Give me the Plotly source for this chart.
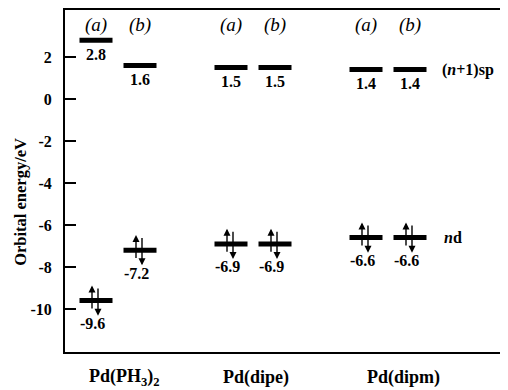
import plotly.graph_objects as go

# ---- data ----
compounds = ["Pd(PH<sub>3</sub>)<sub>2</sub>", "Pd(dipe)", "Pd(dipm)"]
sp_a = [2.8, 1.5, 1.4]      # (n+1)sp level, structure (a)
sp_b = [1.6, 1.5, 1.4]      # (n+1)sp level, structure (b)
d_a = [-9.6, -6.9, -6.6]    # nd level, structure (a)
d_b = [-7.2, -6.9, -6.6]    # nd level, structure (b)
tick_vals = [-10, -8, -6, -4, -2, 0, 2]
tick_text = ["-10", "-8", "-6", "-4", "-2", "0", "2"]

# ---- layout helpers ----
group_x = [53, 188, 323]
label_x = [59, 191, 338]
off = 22
hw = 16.5
FONT = "Liberation Serif"

fig = go.Figure()
ann = []

def fmt(v):
    return ("-" if v < 0 else "") + f"{abs(v):.1f}"

for gi, c in enumerate(group_x):
    for sub, xc in (("a", c - off), ("b", c + off)):
        e_sp = sp_a[gi] if sub == "a" else sp_b[gi]
        e_d = d_a[gi] if sub == "a" else d_b[gi]
        for e in (e_sp, e_d):
            fig.add_trace(go.Scatter(x=[xc - hw, xc + hw], y=[e, e], mode="lines",
                                     line=dict(color="black", width=5),
                                     hoverinfo="skip", showlegend=False))
        ann.append(dict(x=xc, y=e_sp, text=fmt(e_sp), showarrow=False, yshift=-14,
                        font=dict(family=FONT, size=16, color="black", weight="bold")))
        ann.append(dict(x=xc, y=e_d, text=fmt(e_d), showarrow=False, yshift=-23, xshift=-4,
                        font=dict(family=FONT, size=16, color="black", weight="bold")))
        ann.append(dict(x=xc - 4, y=e_d + 0.72, ax=xc - 4, ay=e_d - 0.45, axref="x", ayref="y",
                        text="", showarrow=True, arrowhead=2, arrowsize=1, arrowwidth=1.4,
                        arrowcolor="black"))
        ann.append(dict(x=xc + 2, y=e_d - 0.72, ax=xc + 2, ay=e_d + 0.65, axref="x", ayref="y",
                        text="", showarrow=True, arrowhead=2, arrowsize=1, arrowwidth=1.4,
                        arrowcolor="black"))
        ann.append(dict(x=xc, y=0.956, yref="paper", yanchor="middle", text=f"<i>({sub})</i>",
                        showarrow=False, font=dict(family=FONT, size=19, color="black")))
    ann.append(dict(x=label_x[gi], y=-0.076, yref="paper", yanchor="middle", text=compounds[gi],
                    showarrow=False,
                    font=dict(family=FONT, size=18, color="black", weight="bold")))

ann.append(dict(x=375, y=sp_b[2], text="(<i>n</i>+1)sp", showarrow=False, xanchor="left",
                font=dict(family=FONT, size=16, color="black", weight="bold")))
ann.append(dict(x=377, y=d_b[2], text="<i>n</i>d", showarrow=False, xanchor="left",
                font=dict(family=FONT, size=16, color="black", weight="bold")))
ann.append(dict(x=-0.0993, y=0.439, xref="paper", yref="paper", xanchor="center",
                yanchor="middle", text="Orbital energy/eV", textangle=-90, showarrow=False,
                font=dict(family=FONT, size=16.5, color="black", weight="bold")))

# page body has an 8px default margin, so the figure is 8px smaller and margins shifted
fig.update_layout(
    width=500, height=382,
    margin=dict(l=57, r=0, t=2, b=38, autoexpand=False),
    plot_bgcolor="white", paper_bgcolor="white",
    annotations=ann,
    xaxis=dict(range=[0, 443], showgrid=False, zeroline=False, showticklabels=False,
               ticks="", showline=True, linecolor="black", linewidth=2, mirror=True,
               fixedrange=True),
    yaxis=dict(range=[-12.05, 4.24], showgrid=False, zeroline=False, showline=True,
               linecolor="black", linewidth=2, mirror=False,
               tickvals=tick_vals, ticktext=tick_text, ticks="inside", ticklen=11,
               tickwidth=2, tickcolor="black", ticklabelstandoff=8,
               tickfont=dict(family=FONT, size=16, color="black", weight="bold")),
)

fig.write_html("out.html")
